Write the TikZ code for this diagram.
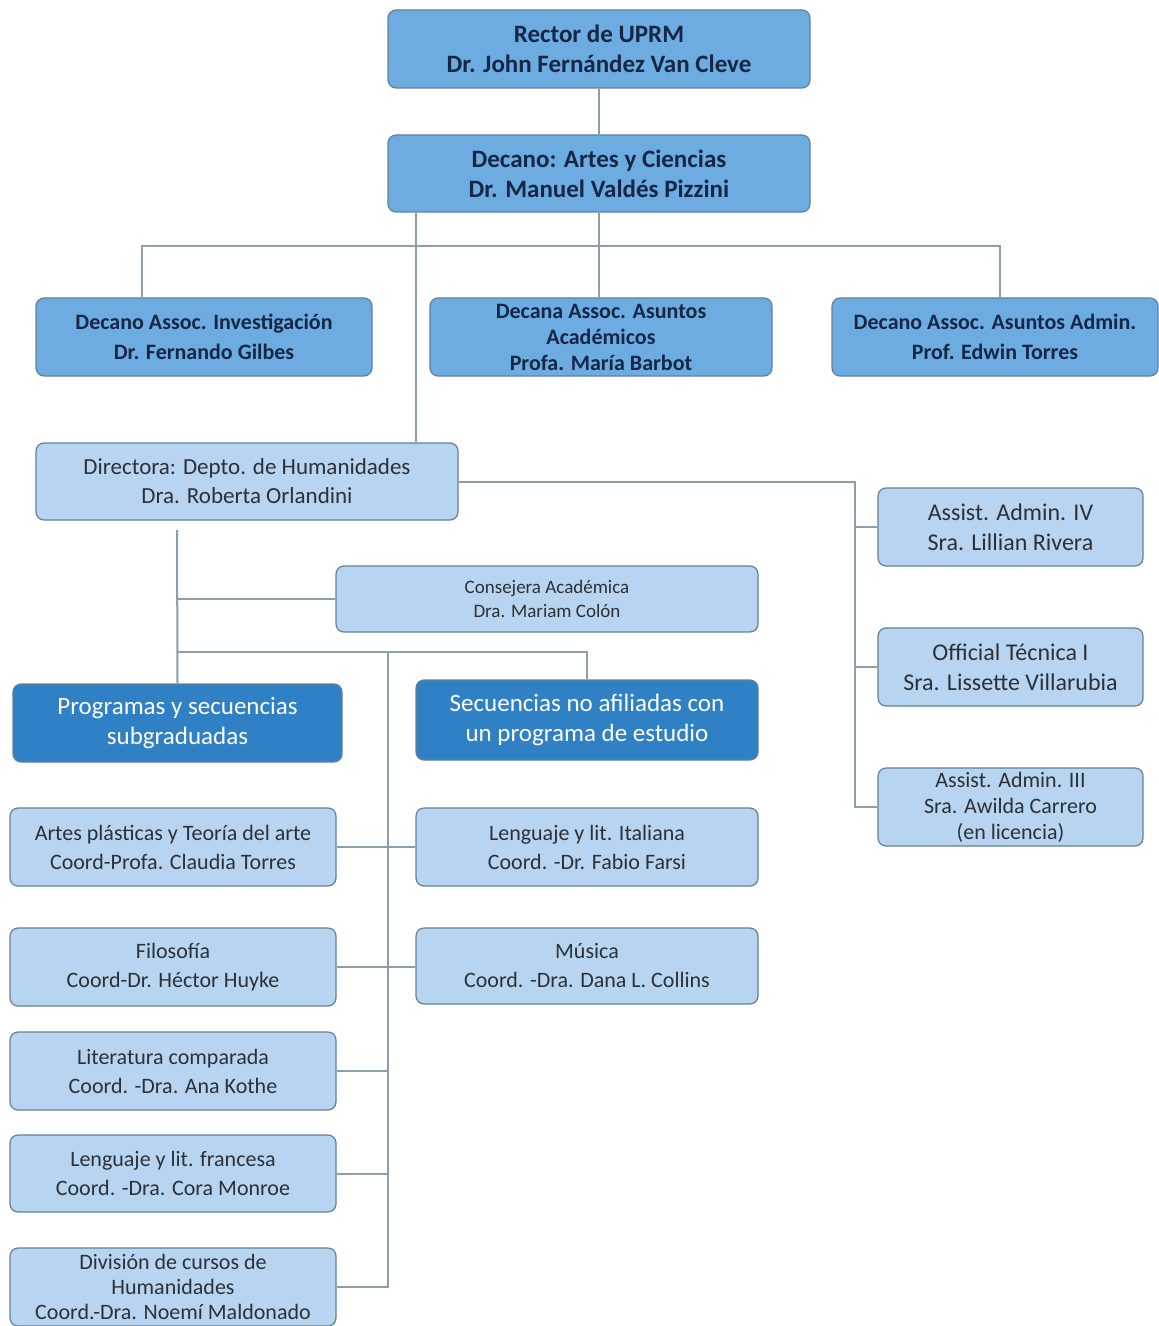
\documentclass[tikz,border=0pt]{standalone}
\usepackage{fontspec}
\setmainfont{Carlito}

\definecolor{azulmedio}{RGB}{108,172,224}
\definecolor{azulclaro}{RGB}{183,213,240}
\definecolor{azulfuerte}{RGB}{47,128,196}
\definecolor{azultexto}{RGB}{22,38,70}
\definecolor{grisoscuro}{RGB}{45,48,55}
\definecolor{borde}{RGB}{100,128,152}
\definecolor{gris}{RGB}{140,158,172}

\begin{document}
\begin{tikzpicture}[x=0.5pt,y=-0.5pt]

\useasboundingbox[fill=white] (0,0) rectangle (1158,1326);

\tikzstyle{caja}=[draw=borde,line width=0.6pt,rounded corners=4pt,align=center,inner sep=0pt]
\tikzstyle{jefe}=[caja,fill=azulmedio,text=azultexto,font=\bfseries\fontsize{11}{15}\selectfont]
\tikzstyle{depto}=[caja,fill=azulclaro,text=grisoscuro,font=\fontsize{11}{14.5}\selectfont]
\tikzstyle{grupo}=[caja,fill=azulfuerte,text=white,font=\fontsize{12.5}{15}\selectfont]
\tikzstyle{linea}=[draw=gris,line width=1pt]

\newcommand{\puesto}[7]{
    \node[#2,minimum width={(#5-#3)*0.5pt},minimum height={(#6-#4)*0.5pt}] (#1) at ({(#3+#5)/2},{(#4+#6)/2}) {#7};
}

% rectoria y decanato
\puesto{rector}{jefe,font=\bfseries\fontsize{12.5}{15}\selectfont}{388}{10}{810}{88}{Rector de UPRM\\Dr. John Fernández Van Cleve}
\puesto{decano}{jefe,font=\bfseries\fontsize{12.5}{15}\selectfont}{388}{135}{810}{212}{Decano: Artes y Ciencias\\Dr. Manuel Valdés Pizzini}

\puesto{investigacion}{jefe}{36}{298}{372}{376}{Decano Assoc. Investigación\\Dr. Fernando Gilbes}
\puesto{academicos}{jefe,font=\bfseries\fontsize{11}{13}\selectfont}{430}{298}{772}{376}{Decana Assoc. Asuntos\\Académicos\\Profa. María Barbot}
\puesto{admin}{jefe}{832}{298}{1158}{376}{Decano Assoc. Asuntos Admin.\\Prof. Edwin Torres}

% departamento
\puesto{directora}{depto,font=\fontsize{11.5}{14.5}\selectfont}{36}{443}{458}{520}{Directora: Depto. de Humanidades\\Dra. Roberta Orlandini}

\puesto{asistIV}{depto,font=\fontsize{12}{15}\selectfont}{878}{488}{1143}{566}{Assist. Admin. IV\\Sra. Lillian Rivera}
\puesto{oficial}{depto,font=\fontsize{12}{15}\selectfont}{878}{628}{1143}{706}{Official Técnica I\\Sra. Lissette Villarubia}
\puesto{asistIII}{depto,font=\fontsize{11}{13}\selectfont}{878}{768}{1143}{846}{Assist. Admin. III\\Sra. Awilda Carrero\\(en licencia)}

\puesto{consejera}{depto,font=\fontsize{9.5}{12}\selectfont}{336}{566}{758}{632}{Consejera Académica\\Dra. Mariam Colón}

\puesto{programas}{grupo}{13}{684}{342}{762}{Programas y secuencias\\subgraduadas}
\puesto{secuencias}{grupo}{416}{680}{758}{760}{Secuencias no afiliadas con\\un programa de estudio}

% programas
\puesto{artes}{depto}{10}{808}{336}{886}{Artes plásticas y Teoría del arte\\Coord-Profa. Claudia Torres}
\puesto{italiana}{depto}{416}{808}{758}{886}{Lenguaje y lit. Italiana\\Coord. -Dr. Fabio Farsi}
\puesto{filosofia}{depto}{10}{928}{336}{1006}{Filosofía\\Coord-Dr. Héctor Huyke}
\puesto{musica}{depto}{416}{928}{758}{1004}{Música\\Coord. -Dra. Dana L. Collins}
\puesto{literatura}{depto}{10}{1032}{336}{1110}{Literatura comparada\\Coord. -Dra. Ana Kothe}
\puesto{francesa}{depto}{10}{1135}{336}{1212}{Lenguaje y lit. francesa\\Coord. -Dra. Cora Monroe}
\puesto{division}{depto,font=\fontsize{11}{12.5}\selectfont}{10}{1248}{336}{1326}{División de cursos de\\Humanidades\\Coord.-Dra. Noemí Maldonado}

% conectores
\coordinate (bus) at (599,246);
\coordinate (busI) at (142,246);
\coordinate (busD) at (1000,246);
\coordinate (bajada) at (416,0);
\coordinate (staff) at (855,0);
\coordinate (tronco) at (177,530);
\coordinate (ramaI) at (177,652);
\coordinate (ramaD) at (388,652);

\draw[linea] (rector) -- (decano);
\draw[linea] (decano.south -| bus) -- (bus |- academicos.north);
\draw[linea] (busI |- investigacion.north) -- (busI) -- (busD) -- (busD |- admin.north);
\draw[linea] (decano.south -| bajada) -- (directora.north -| bajada);

\draw[linea] (directora.east) -| (staff |- asistIII.west) -- (asistIII.west);
\draw[linea] (asistIV.west) -- (asistIV.west -| staff);
\draw[linea] (oficial.west) -- (oficial.west -| staff);

\draw[linea] (tronco) -- (programas.north);
\draw[linea] (consejera.west) -- (consejera.west -| tronco);
\draw[linea] (ramaI) -| (secuencias.north);
\draw[linea] (ramaD) |- (division.east);

\draw[linea] (artes.east) -- (italiana.west);
\draw[linea] (filosofia.east) -- (filosofia.east -| musica.west);
\draw[linea] (literatura.east) -- (literatura.east -| ramaD);
\draw[linea] (francesa.east) -- (francesa.east -| ramaD);

\end{tikzpicture}
\end{document}
